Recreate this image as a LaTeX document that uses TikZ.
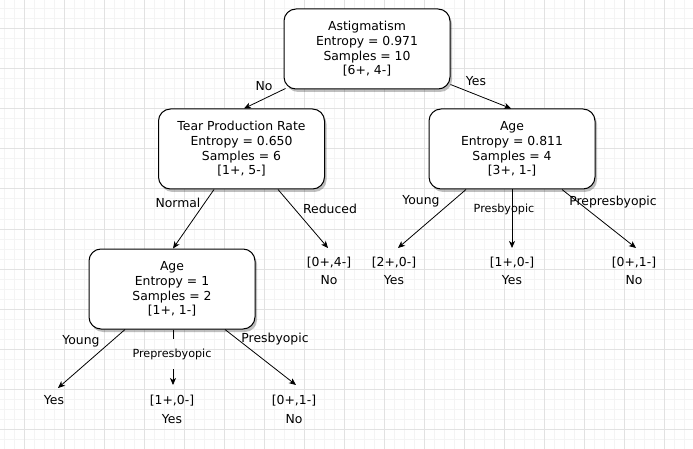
\documentclass[tikz,border=0pt]{standalone}
\usepackage{fontspec}
\setmainfont{DejaVu Sans}
\usetikzlibrary{arrows.meta,calc,shadows}
\definecolor{gridmajor}{HTML}{E2E2E2}
\definecolor{gridminor}{HTML}{F4F4F4}
\begin{document}
\begin{tikzpicture}[x=1pt,y=-1pt,
  box/.style={draw=black, fill=white, rounded corners=12pt, minimum width=166pt, minimum height=80pt,
    inner sep=0pt, align=center, font=\fontsize{12.4}{14.6}\selectfont, line width=1pt,
    drop shadow={shadow xshift=2pt, shadow yshift=-3pt, fill=black, opacity=0.25}},
  lab/.style={font=\fontsize{12.4}{14}\selectfont, inner sep=1pt},
  smalllab/.style={font=\fontsize{11.2}{13}\selectfont, inner sep=1pt},
  leaf/.style={anchor=north, align=center, inner xsep=0pt, font=\fontsize{12.4}{18.5}\selectfont},
  arr/.style={-{Stealth[length=7pt,width=6pt,inset=2pt]}, line width=0.8pt},
  plain/.style={line width=0.8pt},
  gminor/.style={gridminor, line width=1pt},
  gmajor/.style={gridmajor, line width=1pt}
]
\fill[white] (0,0) rectangle (693,449);
\useasboundingbox (0,0) rectangle (693,449);
\foreach \x in {4,14,...,694} \draw[gminor] (\x,0) -- (\x,449);
\foreach \y in {9,19,...,449} \draw[gminor] (0,\y) -- (693,\y);
\foreach \x in {24,64,...,693} \draw[gmajor] (\x,0) -- (\x,449);
\foreach \y in {29,69,...,449} \draw[gmajor] (0,\y) -- (693,\y);

\node[box] (root) at (367,49) {Astigmatism\\Entropy = 0.971\\Samples = 10\\{[6+, 4-]}};
\node[box] (tear) at (241.5,149) {Tear Production Rate\\Entropy = 0.650\\Samples = 6\\{[1+, 5-]}};
\node[box] (ager) at (512,149) {Age\\Entropy = 0.811\\Samples = 4\\{[3+, 1-]}};
\node[box] (agel) at (172,289) {Age\\Entropy = 1\\Samples = 2\\{[1+, 1-]}};

\node[leaf, inner ysep=8.5pt] (l04) at (329,248) {{[0+,4-]}\\No};
\node[leaf, inner ysep=8.5pt] (l20) at (394,248) {{[2+,0-]}\\Yes};
\node[leaf, inner ysep=8.5pt] (l10r) at (512,248) {{[1+,0-]}\\Yes};
\node[leaf, inner ysep=8.5pt] (l01r) at (634,248) {{[0+,1-]}\\No};
\node[leaf, inner ysep=7.5pt] (lyes) at (54,388) {Yes};
\node[leaf, inner ysep=10pt] (l10l) at (172,385) {{[1+,0-]}\\Yes};
\node[leaf, inner ysep=10pt] (l01l) at (294,385) {{[0+,1-]}\\No};

\node[smalllab, inner ysep=9.75pt] (lpp) at (172,354) {Prepresbyopic};

\draw[arr] ($(root.south west)+(2,-1)$) -- ($(tear.north)+(2.5,0)$);
\draw[arr] ($(root.south east)+(0,-5)$) -- ($(ager.north)+(-1,0)$);
\draw[arr] ($(tear.south)+(-27.5,0)$) -- ($(agel.north)+(1,0)$);
\draw[arr] ($(tear.south)+(36.5,0)$) -- ($(l04.north)+(-1,0)$);
\draw[arr] ($(ager.south)+(-46,0)$) -- ($(l20.north)+(4,0)$);
\draw[arr] (ager.south) -- (l10r.north);
\draw[arr] ($(ager.south)+(50,0)$) -- ($(l01r.north)+(2,0)$);
\draw[arr] ($(agel.south)+(-47,0)$) -- ($(lyes.north)+(4,0)$);
\draw[plain] ($(agel.south)+(1,0)$) -- ($(lpp.north)+(1,0)$);
\draw[arr] ($(lpp.south)+(1,0)$) -- ($(l10l.north)+(1,0)$);
\draw[arr] ($(agel.south)+(53,0)$) -- ($(l01l.north)+(2,0)$);

\node[lab] (lno) at (264,86) {No};
\node[lab] (lyesr) at (476,81) {Yes};
\node[lab] (lnormal) at (178,203) {Normal};
\node[lab] (lreduced) at (330,209) {Reduced};
\node[lab] (lyoungr) at (421,201) {Young};
\node[smalllab] (lpresr) at (504,209) {Presbyopic};
\node[lab] (lpprer) at (613,202) {Prepresbyopic};
\node[lab] (lyoungl) at (81,341) {Young};
\node[lab] (lpresl) at (275,339) {Presbyopic};
\end{tikzpicture}
\end{document}
